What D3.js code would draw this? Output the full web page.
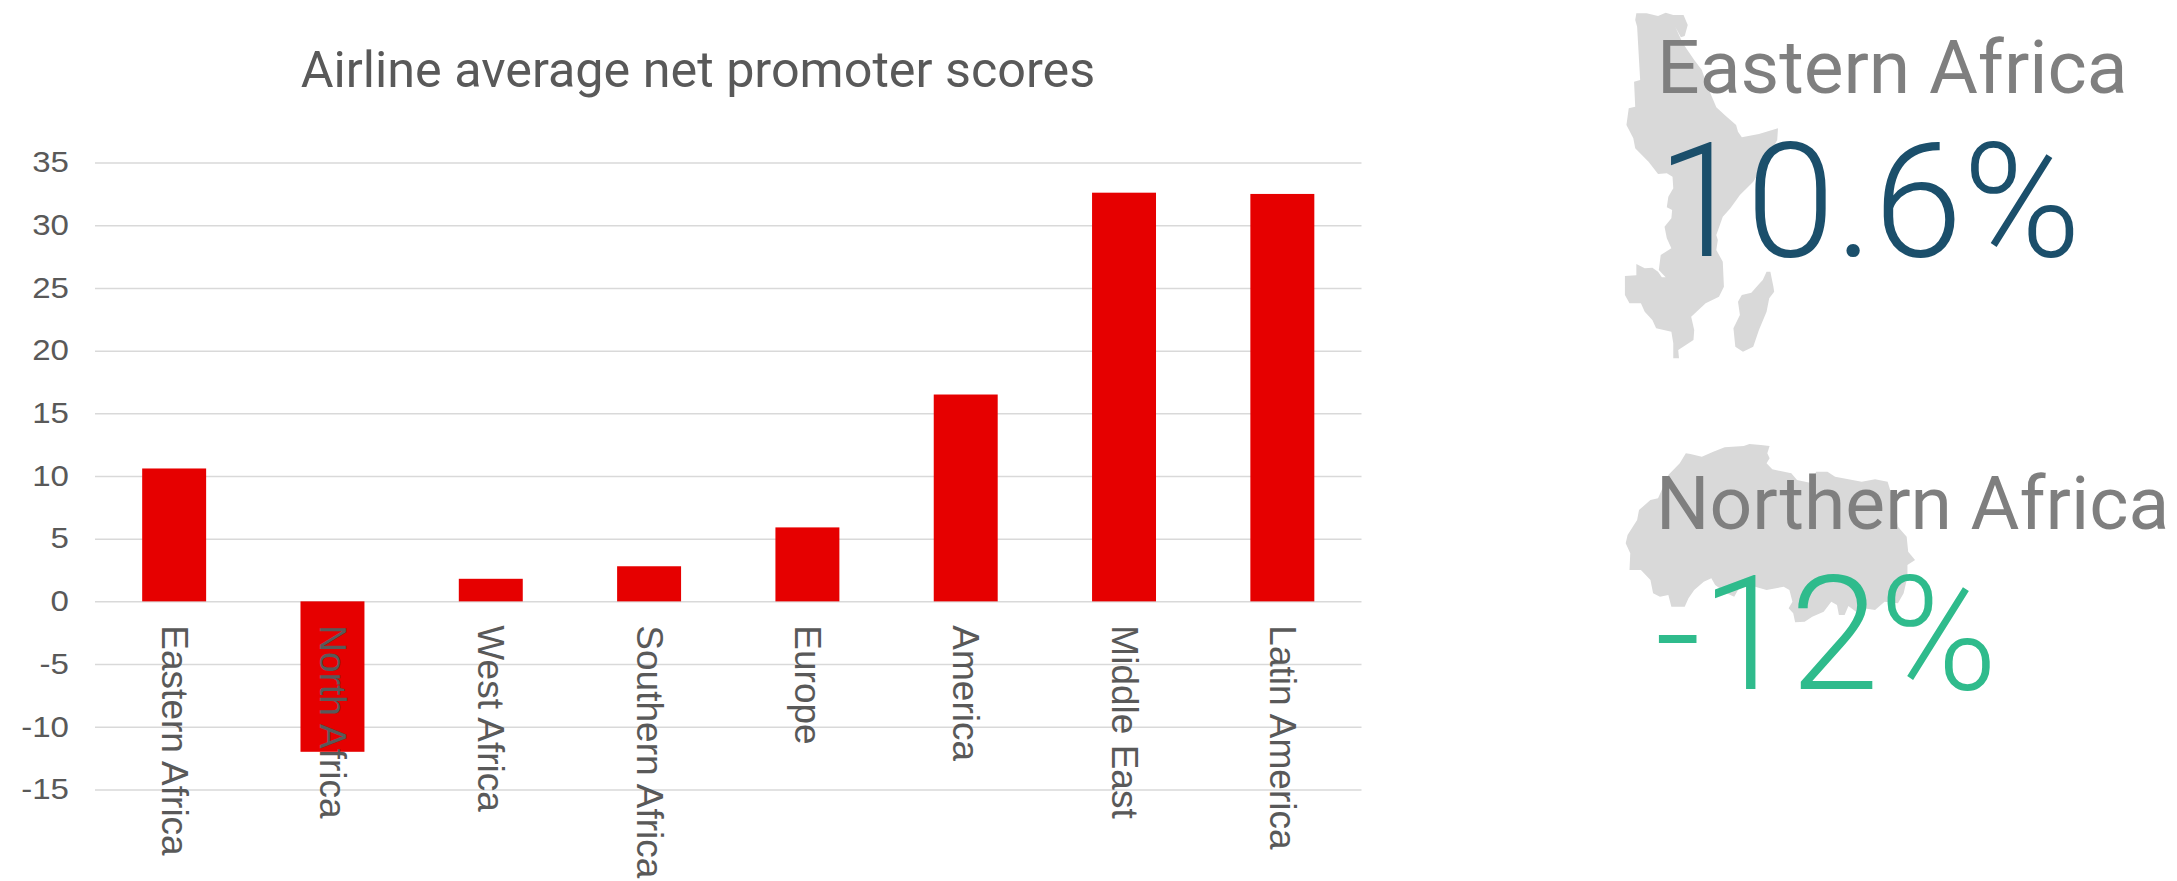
<!DOCTYPE html>
<html>
<head>
<meta charset="utf-8">
<script src="https://cdnjs.cloudflare.com/ajax/libs/d3/7.8.5/d3.min.js"></script>
<style>
html,body{margin:0;padding:0;background:#fff;}
svg{display:block;}
text{font-family:Roboto,sans-serif;}
.axis-y text{font-family:"Liberation Sans",Arial,sans-serif;}
.axis-x text{font-family:"Liberation Sans",Arial,sans-serif;}
</style>
</head>
<body>
<svg id="chart" width="2177" height="881"></svg>
<script>
// Airline average net promoter scores by region
const regions = ["Eastern Africa","North Africa","West Africa","Southern Africa","Europe","America","Middle East","Latin America"];
const scores = [10.6,-12,1.8,2.8,5.9,16.5,32.6,32.5];
const yTicks = [35,30,25,20,15,10,5,0,-5,-10,-15];

// Callout figures
const calloutTitles = ["Eastern Africa","Northern Africa"];
const calloutValues = ["10.6%","-12%"];

// Simplified region outlines, in outline-local units
const easternMainland = [[148,40],[175,40],[205,48],[225,38],[245,45],[272,45],[283,75],[275,108],[265,112],[250,80],[270,130],[300,180],[320,210],[335,260],[350,300],[358,322],[380,345],[410,375],[415,395],[425,412],[470,402],[520,385],[518,420],[490,480],[455,545],[420,585],[395,625],[375,650],[358,705],[362,720],[358,750],[375,785],[378,860],[365,890],[330,910],[292,950],[300,990],[298,1020],[258,1050],[260,1075],[245,1075],[245,1030],[240,995],[200,985],[190,960],[170,935],[160,910],[130,910],[118,885],[118,828],[148,826],[148,792],[170,805],[190,803],[205,815],[215,832],[225,832],[207,810],[212,765],[240,745],[228,715],[222,680],[240,655],[242,630],[228,622],[232,590],[245,565],[243,530],[228,520],[205,522],[180,485],[145,445],[140,415],[122,375],[128,325],[145,320],[142,245],[158,240],[150,80],[145,60]];
const madagascar = [[490,815],[500,815],[508,860],[510,875],[497,895],[490,935],[470,990],[455,1040],[428,1055],[408,1040],[403,985],[420,945],[415,905],[425,885],[450,878],[472,850],[480,840]];
const northernOutline = [[278,100],[290,102],[320,110],[350,95],[380,82],[430,78],[445,72],[475,75],[498,78],[492,100],[498,115],[490,130],[505,148],[555,160],[570,180],[610,190],[620,155],[650,155],[670,170],[740,185],[775,178],[808,185],[820,230],[835,320],[858,350],[862,395],[880,420],[860,435],[860,470],[850,520],[835,550],[800,545],[775,570],[745,565],[725,575],[705,558],[695,585],[680,585],[675,555],[660,545],[640,575],[610,590],[590,605],[565,607],[560,580],[548,565],[558,545],[550,510],[535,500],[490,510],[460,500],[420,500],[405,530],[385,520],[355,495],[345,475],[325,485],[300,510],[285,535],[275,560],[240,560],[232,525],[210,530],[192,520],[185,480],[160,450],[130,450],[132,400],[120,370],[125,345],[150,300],[155,270],[185,240],[205,235],[232,165],[262,130]];

const svg = d3.select("#chart");

const plot = {left:95, right:1361.5, top:162.6, bottom:789.4};
const x = d3.scaleBand().domain(regions).range([plot.left,plot.right]).paddingInner(0.596).paddingOuter(0.298);
const y = d3.scaleLinear().domain([-15,35]).range([plot.bottom,plot.top]);

// Gridlines and value labels, widened slightly and anchored at the right edge
const yAxis = svg.append("g").attr("class","axis-y")
  .attr("transform",`translate(${plot.left},0)`)
  .call(d3.axisLeft(y).tickValues(yTicks).tickSize(-(plot.right-plot.left)).tickPadding(0).tickFormat(d=>String(d)));
yAxis.select(".domain").remove();
yAxis.selectAll("line").attr("stroke","#d9d9d9").attr("stroke-width",1.5);
yAxis.selectAll("text").attr("fill","#595959").attr("font-size",29).attr("text-anchor","end")
  .attr("x",0).attr("transform","translate(-26,0) scale(1.14,1)");

// Bars
svg.append("g").selectAll("rect").data(regions).join("rect")
  .attr("x",d=>x(d))
  .attr("width",x.bandwidth())
  .attr("y",(d,i)=>y(Math.max(0,scores[i])))
  .attr("height",(d,i)=>Math.abs(y(scores[i])-y(0)))
  .attr("fill","#e60000");

// Category labels run downward from beneath the zero line
const xAxis = svg.append("g").attr("class","axis-x")
  .attr("transform",`translate(0,${y(0)})`)
  .call(d3.axisBottom(x).tickSize(0).tickPadding(0));
xAxis.select(".domain").remove();
xAxis.selectAll("text")
  .attr("fill","#595959").attr("font-size",37)
  .attr("text-anchor","start")
  .attr("dy",0).attr("y",0)
  .attr("transform","translate(-12.5,24) rotate(90)");

// Chart title
svg.append("text").attr("x",698).attr("y",87)
  .attr("text-anchor","middle").attr("fill","#595959").attr("font-size",50.3)
  .text("Airline average net promoter scores");

// Region outlines behind the callouts
const outlineX = d3.scaleLinear().domain([0,1568]).range([1580,2177]);
const outlineYTop = d3.scaleLinear().domain([0,1140]).range([0,380]);
const outlineYBottom = d3.scaleLinear().domain([0,960]).range([420,740]);
const lineTop = d3.line().x(d=>outlineX(d[0])).y(d=>outlineYTop(d[1])).curve(d3.curveLinearClosed);
const lineBottom = d3.line().x(d=>outlineX(d[0])).y(d=>outlineYBottom(d[1])).curve(d3.curveLinearClosed);
svg.append("path").attr("d",lineTop(easternMainland)).attr("fill","#d9d9d9");
svg.append("path").attr("d",lineTop(madagascar)).attr("fill","#d9d9d9");
svg.append("path").attr("d",lineBottom(northernOutline)).attr("fill","#d9d9d9");

// Callout headings and figures
const headingBaselines = [93,529];
const headingLefts = [1657,1656];
const figureBaselines = [256,689];
const figureLefts = [1657,1655];
const figureColours = ["#1b4f6b","#2fbb8c"];
svg.append("g").selectAll("text").data(calloutTitles).join("text")
  .attr("x",(d,i)=>headingLefts[i]).attr("y",(d,i)=>headingBaselines[i])
  .attr("font-size",75).attr("fill","#7f7f7f").text(d=>d);
svg.append("g").selectAll("text").data(calloutValues).join("text")
  .attr("x",(d,i)=>figureLefts[i]).attr("y",(d,i)=>figureBaselines[i])
  .attr("font-size",160.5).attr("font-weight",300)
  .attr("fill",(d,i)=>figureColours[i]).text(d=>d);
</script>
</body>
</html>
